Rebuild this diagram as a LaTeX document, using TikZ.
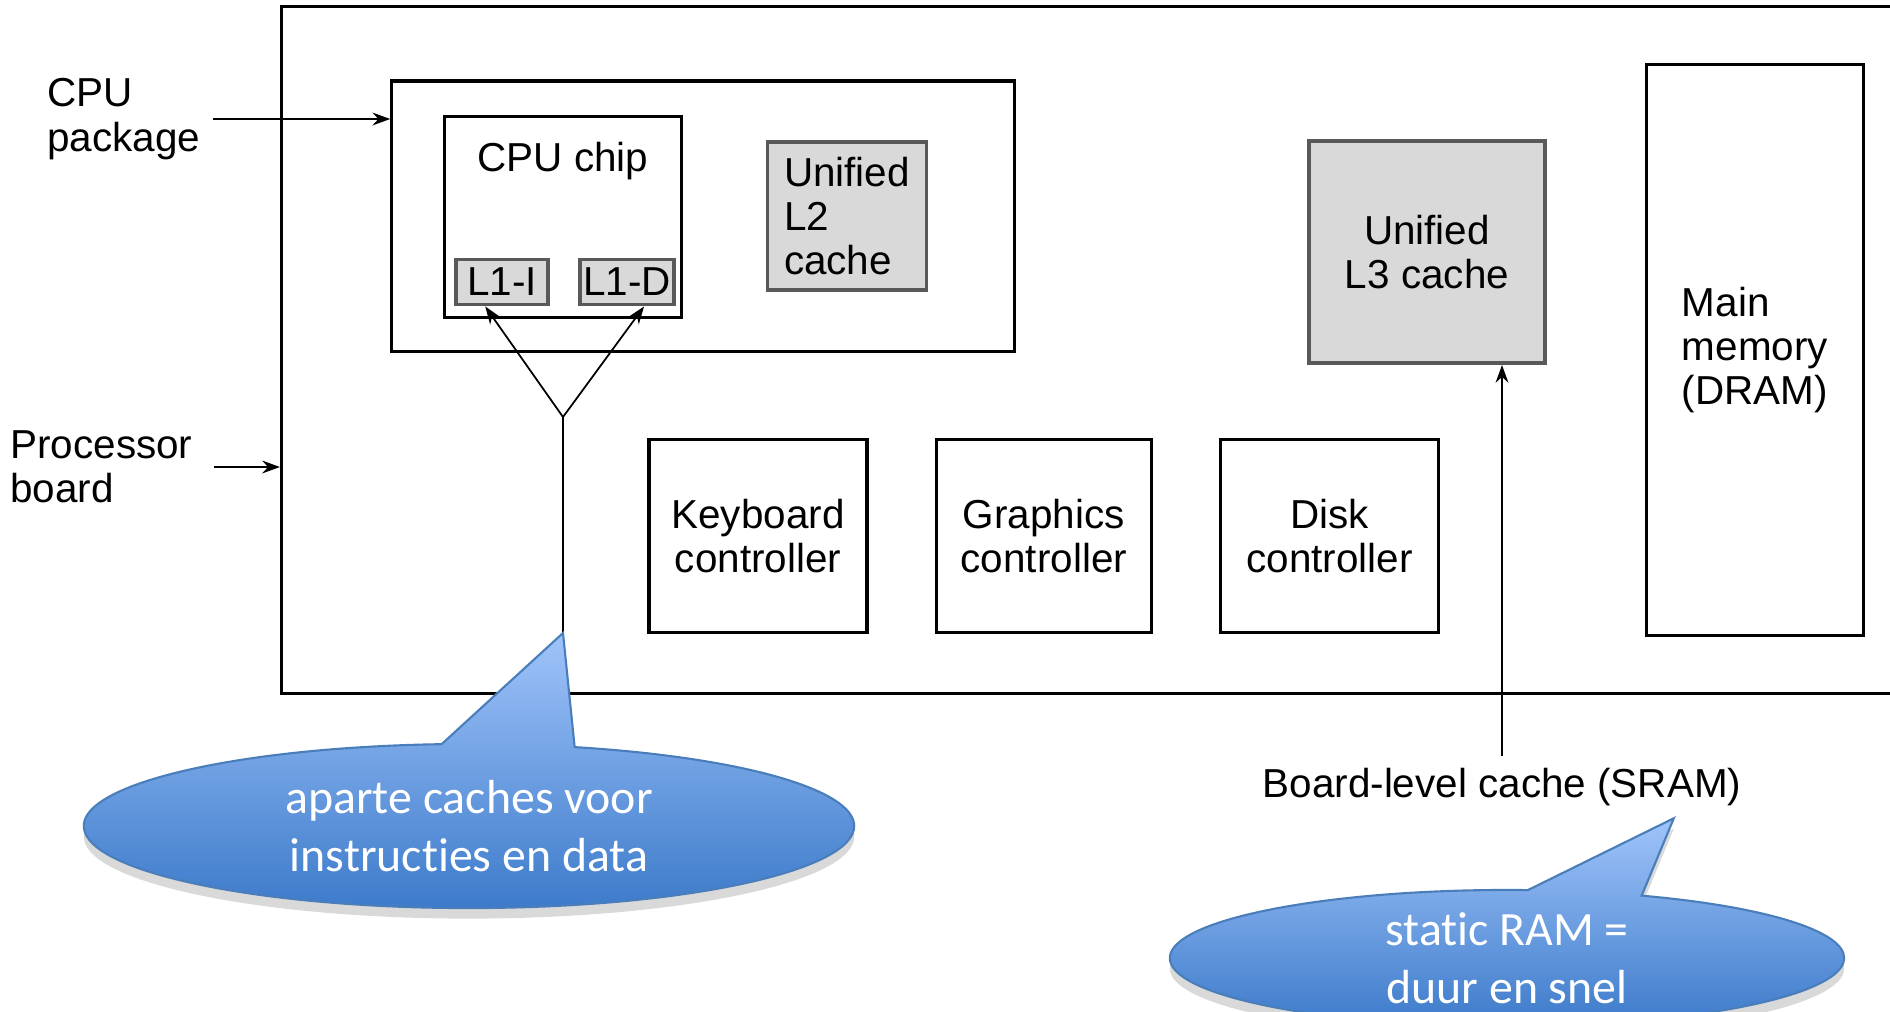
\documentclass[tikz,border=0pt]{standalone}
\usepackage{fontspec}
\setmainfont{Liberation Sans}
\newfontfamily\bubblefont[Ligatures=NoCommon]{Carlito}
\usepackage{xcolor}
\usetikzlibrary{calc, arrows.meta, positioning, shapes.callouts, shadows}
\definecolor{bubbletop}{RGB}{160,196,250}
\definecolor{bubblebot}{RGB}{60,122,202}
\definecolor{bubbleedge}{RGB}{74,126,187}

\begin{document}
\begin{tikzpicture}[x=0.01cm, y=-0.01cm, font=\fontsize{11.5}{12.6}\selectfont,
    blk/.style={draw, line width=0.9pt, minimum width=2.18cm, minimum height=1.93cm, align=center, inner sep=0pt},
    cache/.style={draw=black!65, fill=gray!30, line width=1.1pt, align=center, inner sep=0pt},
    lbl/.style={align=left, anchor=west},
    arr/.style={-{Stealth[length=5pt, width=3.6pt]}, line width=0.8pt},
    bubble/.style={ellipse callout, callout pointer arc=20, draw=bubbleedge, line width=0.6pt,
      top color=bubbletop, bottom color=bubblebot, text=white, inner sep=0pt, align=center,
      font=\bubblefont\fontsize{13.6}{16.4}\selectfont,
      drop shadow={shadow xshift=0pt, shadow yshift=-3pt, opacity=0.3}}]
    \useasboundingbox (0,0) rectangle (1890,1011);
    \clip (0,0) rectangle (1890,1011);
    % board and cpu package
    \node[blk, minimum width=16.8cm, minimum height=6.87cm] (board) at (1122,350) {};
    \node[blk, minimum width=6.22cm, minimum height=2.70cm] (pkg) at (703,216) {};
    \node[blk, minimum width=2.37cm, minimum height=2.01cm,
      label={[anchor=north, yshift=-0.15cm]north:CPU chip}] (chip) at (563,217) {};
    \node[cache, minimum width=0.92cm, minimum height=0.45cm] (l1i) at (502,282) {L1-I};
    \node[cache, minimum width=0.94cm, minimum height=0.45cm, right=0.28cm of l1i] (l1d) {L1-D};
    \node[cache, minimum width=1.59cm, minimum height=1.48cm, align=left] (l2) at (847,216) {Unified\\L2\\cache};
    \node[cache, minimum width=2.36cm, minimum height=2.22cm] (l3) at (1427,252) {Unified\\L3 cache};
    \node[blk, minimum width=2.17cm, minimum height=5.71cm, align=left] (mem) at (1755,350) {Main\\memory\\(DRAM)};
    % controllers
    \node[blk] (kbd) at (758,536) {Keyboard\\controller};
    \node[blk, minimum width=2.15cm, right=0.66cm of kbd] (gfx) {Graphics\\controller};
    \node[blk, right=0.66cm of gfx] (dsk) {Disk\\controller};
    % side labels
    \node[lbl] (pkglbl) at (35,119) {CPU\\package};
    \node[lbl] (brdlbl) at (-2,467) {Processor\\board};
    \draw[arr] (pkglbl.east) -- (pkglbl.east -| pkg.west);
    \draw[arr, shorten <=0.9mm] (brdlbl.east) -- (brdlbl.east -| board.west);
    % split L1 path
    \coordinate (busend) at (563,633);
    \coordinate (fork) at (563,417);
    \draw[line width=0.8pt] (busend) -- (fork);
    \draw[arr, line width=0.5pt] (fork) -- ($(l1i.south)!0.35!(l1i.south west)$);
    \draw[arr, line width=0.5pt] (fork) -- ($(l1d.south)!0.35!(l1d.south east)$);
    % board-level cache
    \node (sram) at (1502,787) {Board-level cache (SRAM)};
    \draw[arr] (sram.north) -- (sram.north |- l3.south);
    \coordinate (tip2) at ($(sram.south east)+(-80,0)$);
    % callouts
    \node[bubble, minimum width=7.7cm, minimum height=1.64cm, callout absolute pointer={(busend)}] (c1) at (469,826) {aparte caches voor\\instructies en data};
    \node[bubble, minimum width=6.74cm, minimum height=1.36cm, callout absolute pointer={(tip2)}] (c2) at (1507,958) {static RAM =\\duur en snel};
  \end{tikzpicture}
\end{document}
